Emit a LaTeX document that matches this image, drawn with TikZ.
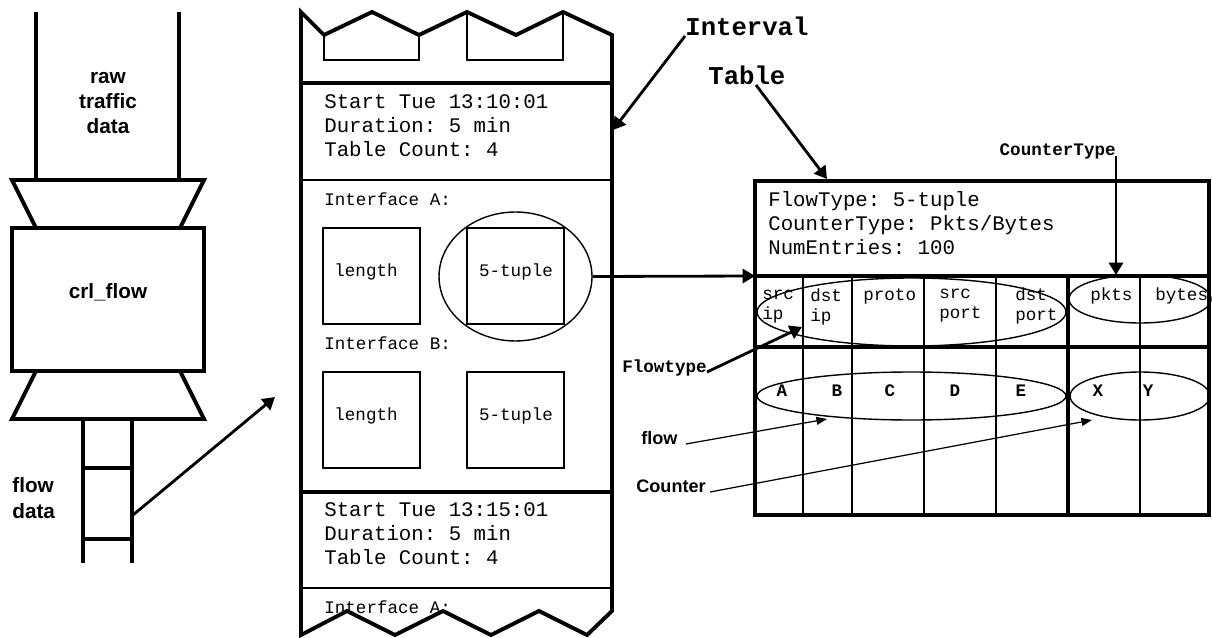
\documentclass[tikz,border=0pt]{standalone}
\usepackage{fontspec}
\setsansfont{Liberation Sans}
\setmonofont{Liberation Mono}
\usetikzlibrary{arrows.meta,shapes.geometric,calc}
\tikzset{heavyline/.style={draw=black,line width=2.2pt},
 midline/.style={draw=black,line width=1.6pt},
 thinline/.style={draw=black,line width=.8pt},
 bigarrow/.style={draw=black,line width=1.6pt,-{Triangle[length=7pt,width=8pt]}},
 smallarrow/.style={draw=black,line width=.7pt,-{Triangle[length=6pt,width=4.5pt]}},
 sanslbl/.style={font=\sffamily\bfseries\fontsize{11.8}{14.4}\selectfont,align=center,inner sep=0pt},
 smalllbl/.style={font=\sffamily\bfseries\fontsize{10.3}{12}\selectfont,inner sep=0pt},
 record/.style={font=\ttfamily\fontsize{11.8}{13.6}\selectfont,align=left,inner sep=0pt,anchor=west},
 cell/.style={font=\ttfamily\fontsize{10}{11.4}\selectfont,align=left,inner sep=0pt,anchor=west},
 cellc/.style={font=\ttfamily\fontsize{10}{11.4}\selectfont,inner sep=0pt},
 keytag/.style={font=\ttfamily\bfseries\fontsize{10}{12}\selectfont,inner sep=0pt},
 bigtag/.style={font=\ttfamily\bfseries\fontsize{14.6}{16}\selectfont,inner sep=0pt,anchor=base west}}

\begin{document}
\begin{tikzpicture}[x=0.02cm,y=-0.02cm]
\useasboundingbox (0,0) rectangle (1212,638);
\draw[heavyline] (36,12) -- (36,180);
\draw[heavyline] (179,12) -- (179,180);
\draw[heavyline] (12,180) -- (204,180) -- (180,228) -- (36,228) -- cycle;
\draw[heavyline] (12,228) rectangle (204,371);
\draw[heavyline] (36,371) -- (180,371) -- (204,419) -- (12,419) -- cycle;
\draw[heavyline] (83,419) -- (83,563);
\draw[heavyline] (132,419) -- (132,563);
\draw[heavyline] (83,468) -- (132,468);
\draw[heavyline] (83,539) -- (132,539);
\node[sanslbl] (raw) at (108,103) {raw\\traffic\\data};
\node[sanslbl] (crl) at (108,292) {crl\_flow};
\node[sanslbl,align=left,anchor=west] (flowdata) at (12,498) {flow\\data};
\coordinate (pipeout) at (133,515);
\coordinate (colin) at (275,397);
\draw[bigarrow] (pipeout) -- (colin);
\draw[heavyline] (301,12) -- (324,35) -- (372,12) -- (419,35) -- (467,12) -- (516,35) -- (563,12) -- (612,35) -- (612,611) -- (587,635) -- (539,611) -- (491,635) -- (443,611) -- (395,635) -- (347,611) -- (301,635) -- cycle;
\draw[thinline] (324,35) -- (324,60) -- (419,60) -- (419,35);
\draw[thinline] (467,12) -- (467,60) -- (563,60) -- (563,12);
\draw[heavyline] (301,83) -- (612,83);
\draw[thinline] (301,180) -- (612,180);
\draw[heavyline] (301,492) -- (612,492);
\draw[thinline] (301,588) -- (612,588);
\node[record] (iv1) at (324,126) {Start Tue 13:10:01\\Duration: 5 min\\Table Count: 4};
\node[cell] (ifa) at (324,199) {Interface A:};
\draw[thinline] (323,228) rectangle (420,324);
\node[cellc] (lena) at (366,272) {length};
\draw[midline] (467,228) rectangle (564,324);
\node[cellc] (tupa) at (516,272) {5-tuple};
\node[thinline,ellipse,inner sep=0pt,minimum width=3.06cm,minimum height=2.58cm] (sel) at (515.5,276.5) {};
\node[cell] (ifb) at (324,343) {Interface B:};
\draw[thinline] (323,372) rectangle (420,468);
\node[cellc] (lenb) at (366,416) {length};
\draw[thinline] (467,372) rectangle (564,468);
\node[cellc] (tupb) at (516,416) {5-tuple};
\node[record] (iv2) at (324,534) {Start Tue 13:15:01\\Duration: 5 min\\Table Count: 4};
\node[cell] (ifc) at (324,607) {Interface A:};
\node[bigtag] (intlbl) at (685,36) {Interval};
\coordinate (coledge) at (613,130);
\draw[bigarrow] (intlbl.base west) -- (coledge);
\node[bigtag] (tbllbl) at (708,85) {Table};
\coordinate (tbltop) at (827,179);
\draw[bigarrow] ($(tbllbl.base west)+(48,0)$) -- (tbltop);
\draw[heavyline] (755,181) rectangle (1209,515);
\draw[heavyline] (755,276) -- (1209,276);
\draw[heavyline] (755,347) -- (1209,347);
\draw[heavyline] (1068,276) -- (1068,515);
\draw[thinline] (803,276) -- (803,515);
\draw[thinline] (852,276) -- (852,515);
\draw[thinline] (924,276) -- (924,515);
\draw[thinline] (996,276) -- (996,515);
\draw[thinline] (1140,276) -- (1140,515);
\coordinate (tblin) at (755,276);
\draw[bigarrow] (sel.east) -- (tblin);
\node[record] (hdr) at (768,223) {FlowType: 5-tuple\\CounterType: Pkts/Bytes\\NumEntries: 100};
\node[cell] (srcip) at (762,307) {src\\ip};
\node[cell] (dstip) at (810,307) {dst\\ip};
\node[cell] (proto) at (863,296) {proto};
\node[cell] (srcport) at (939,306) {src\\port};
\node[cell] (dstport) at (1015,306) {dst\\port};
\node[cell] (pkts) at (1090,296) {pkts};
\node[cell] (bytes) at (1155,296) {bytes};
\draw[thinline] (911.5,312) ellipse [x radius=154.5,y radius=34];
\draw[thinline] (1140,299) ellipse [x radius=71,y radius=24];
\node[keytag] (ka) at (782,391) {A};
\node[keytag] (kb) at (837,391) {B};
\node[keytag] (kc) at (890,391) {C};
\node[keytag] (kd) at (955,391) {D};
\node[keytag] (ke) at (1021,391) {E};
\node[keytag] (kx) at (1098,391) {X};
\node[keytag] (ky) at (1148,391) {Y};
\draw[thinline] (911.5,396) ellipse [x radius=154.5,y radius=24];
\draw[thinline] (1140,396) ellipse [x radius=70,y radius=24];
\node[keytag,anchor=base east] (ctype) at (1116,156) {CounterType};
\coordinate (pkcol) at (1116,275);
\draw[bigarrow] (ctype.base east) -- (pkcol);
\node[keytag,anchor=base east] (ftype) at (707,372) {Flowtype};
\coordinate (srcdst) at (802,327);
\draw[bigarrow] (ftype.base east) -- (srcdst);
\node[smalllbl,anchor=base west] (flowlbl) at (641,444) {flow};
\coordinate (flowrow) at (827,419);
\draw[smallarrow] ($(flowlbl.base east)+(8,0)$) -- (flowrow);
\node[smalllbl,anchor=base west] (ctrlbl) at (636,492) {Counter};
\coordinate (ctrrow) at (1092,420);
\draw[smallarrow] ($(ctrlbl.base east)+(4,0)$) -- (ctrrow);
\end{tikzpicture}
\end{document}
